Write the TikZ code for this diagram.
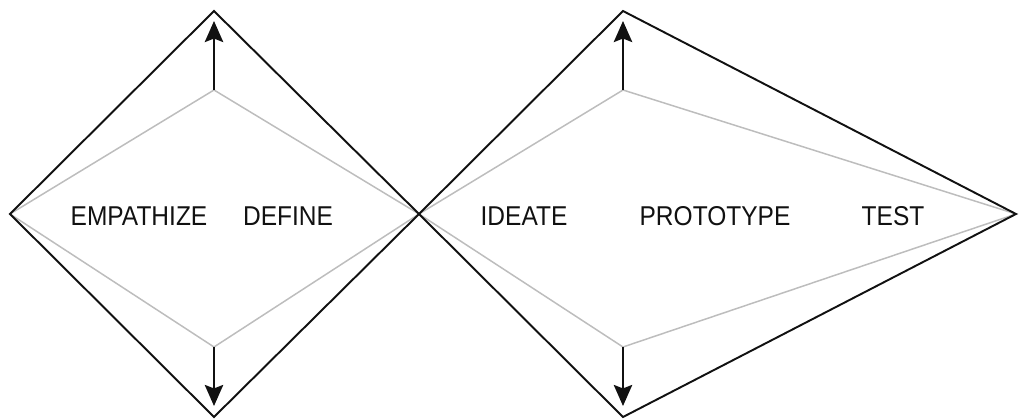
\documentclass[tikz,border=0pt]{standalone}
\usepackage{fontspec}
\setmainfont{Liberation Sans}[FakeStretch=0.9]
\usepackage{tikz}
\usetikzlibrary{arrows.meta}
\usepackage{xcolor}
\definecolor{Ink}{HTML}{111111}
\definecolor{LtGray}{HTML}{BDBDBD}

\begin{document}
\begin{tikzpicture}[
  x=0.02cm, y=-0.02cm,
  outer/.style={draw=Ink, line width=1.1pt, line join=miter},
  inner/.style={draw=LtGray, line width=0.85pt},
  growarrow/.style={-{Stealth[length=12pt, width=10.5pt, inset=2pt]}, line width=1.1pt, color=Ink},
  phase/.style={font=\fontsize{15.5}{18}\selectfont, text=Ink, inner sep=0pt}
]
  \useasboundingbox (0,0) rectangle (1019,419);

  % corners of the two shapes
  \coordinate (l)  at (10,214);
  \coordinate (m)  at (419,214);
  \coordinate (r)  at (1016,214);
  \coordinate (t1) at (214,11);
  \coordinate (b1) at (214,417);
  \coordinate (t2) at (623,11);
  \coordinate (b2) at (623,417);
  \coordinate (ti1) at (214,90);
  \coordinate (bi1) at (214,347);
  \coordinate (ti2) at (623,90);
  \coordinate (bi2) at (623,347);
  \coordinate (ta1) at (214,21);
  \coordinate (ba1) at (214,406);
  \coordinate (ta2) at (623,21);
  \coordinate (ba2) at (623,406);

  \draw[inner] (l) -- (ti1) -- (m) -- (bi1) -- cycle;
  \draw[inner] (m) -- (ti2) -- (r) -- (bi2) -- cycle;
  \draw[outer] (l) -- (t1) -- (m) -- (b1) -- cycle;
  \draw[outer] (m) -- (t2) -- (r) -- (b2) -- cycle;

  \draw[growarrow] (ti1) -- (ta1);
  \draw[growarrow] (bi1) -- (ba1);
  \draw[growarrow] (ti2) -- (ta2);
  \draw[growarrow] (bi2) -- (ba2);

  \node[phase] (emp)  at (139,216) {EMPATHIZE};
  \node[phase] (def)  at (288,216) {DEFINE};
  \node[phase] (idea) at (524,216) {IDEATE};
  \node[phase] (prot) at (715,216) {PROTOTYPE};
  \node[phase] (test) at (893,216) {TEST};
\end{tikzpicture}
\end{document}
